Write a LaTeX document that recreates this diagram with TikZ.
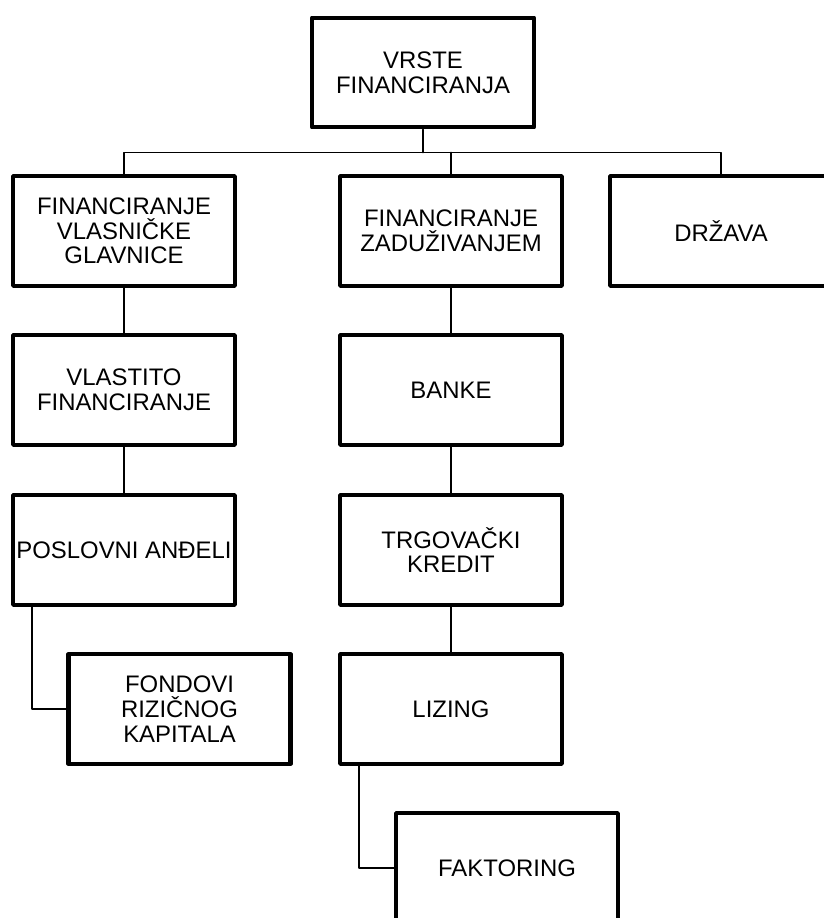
\documentclass[tikz,border=0pt]{standalone}
\usepackage{fontspec}
\setmainfont{Liberation Sans}
\usepackage{tikz}
\tikzset{>=latex}

\begin{document}
\begin{tikzpicture}[line cap=round,line join=round,x=0.025cm,y=-0.025cm,
	okvir/.style={draw=black,line width=3.1pt,minimum width=5.54cm,minimum height=2.74cm,inner sep=0pt,align=center,font=\fontsize{17}{17.6}\selectfont},
	veza/.style={draw=black,line width=1.1pt}]
	\useasboundingbox (0,0) rectangle (823,918);
	\draw (423,72.5) node[okvir] (vrste) {VRSTE\\FINANCIRANJA};
	\draw (124,231) node[okvir] (vlasnicke) {FINANCIRANJE\\VLASNIČKE\\GLAVNICE};
	\draw (451,231) node[okvir] (zaduz) {FINANCIRANJE\\ZADUŽIVANJEM};
	\draw (721,231) node[okvir] (drzava) {DRŽAVA};
	\draw (124,390) node[okvir] (vlastito) {VLASTITO\\FINANCIRANJE};
	\draw (451,390) node[okvir] (banke) {BANKE};
	\draw (124,550) node[okvir] (andeli) {POSLOVNI ANĐELI};
	\draw (451,550) node[okvir] (kredit) {TRGOVAČKI\\KREDIT};
	\draw (179.5,709) node[okvir] (fondovi) {FONDOVI\\RIZIČNOG\\KAPITALA};
	\draw (451,709) node[okvir] (lizing) {LIZING};
	\draw (507,868) node[okvir] (faktoring) {FAKTORING};
	% sabirnica ispod vrha
	\coordinate (sab) at (423,152.5);
	\draw[veza] (vrste.south) -- (sab);
	\draw[veza] (vlasnicke.north) -- (vlasnicke.north |- sab) -- (drzava.north |- sab) -- (drzava.north);
	\draw[veza] (zaduz.north) -- (zaduz.north |- sab);
	\draw[veza] (vlasnicke) -- (vlastito);
	\draw[veza] (vlastito) -- (andeli);
	\draw[veza] (zaduz) -- (banke);
	\draw[veza] (banke) -- (kredit);
	\draw[veza] (kredit) -- (lizing);
	\draw[veza] ([xshift=0.525cm]andeli.south west) |- (fondovi.west);
	\draw[veza] ([xshift=0.525cm]lizing.south west) |- (faktoring.west);
\end{tikzpicture}
\end{document}
